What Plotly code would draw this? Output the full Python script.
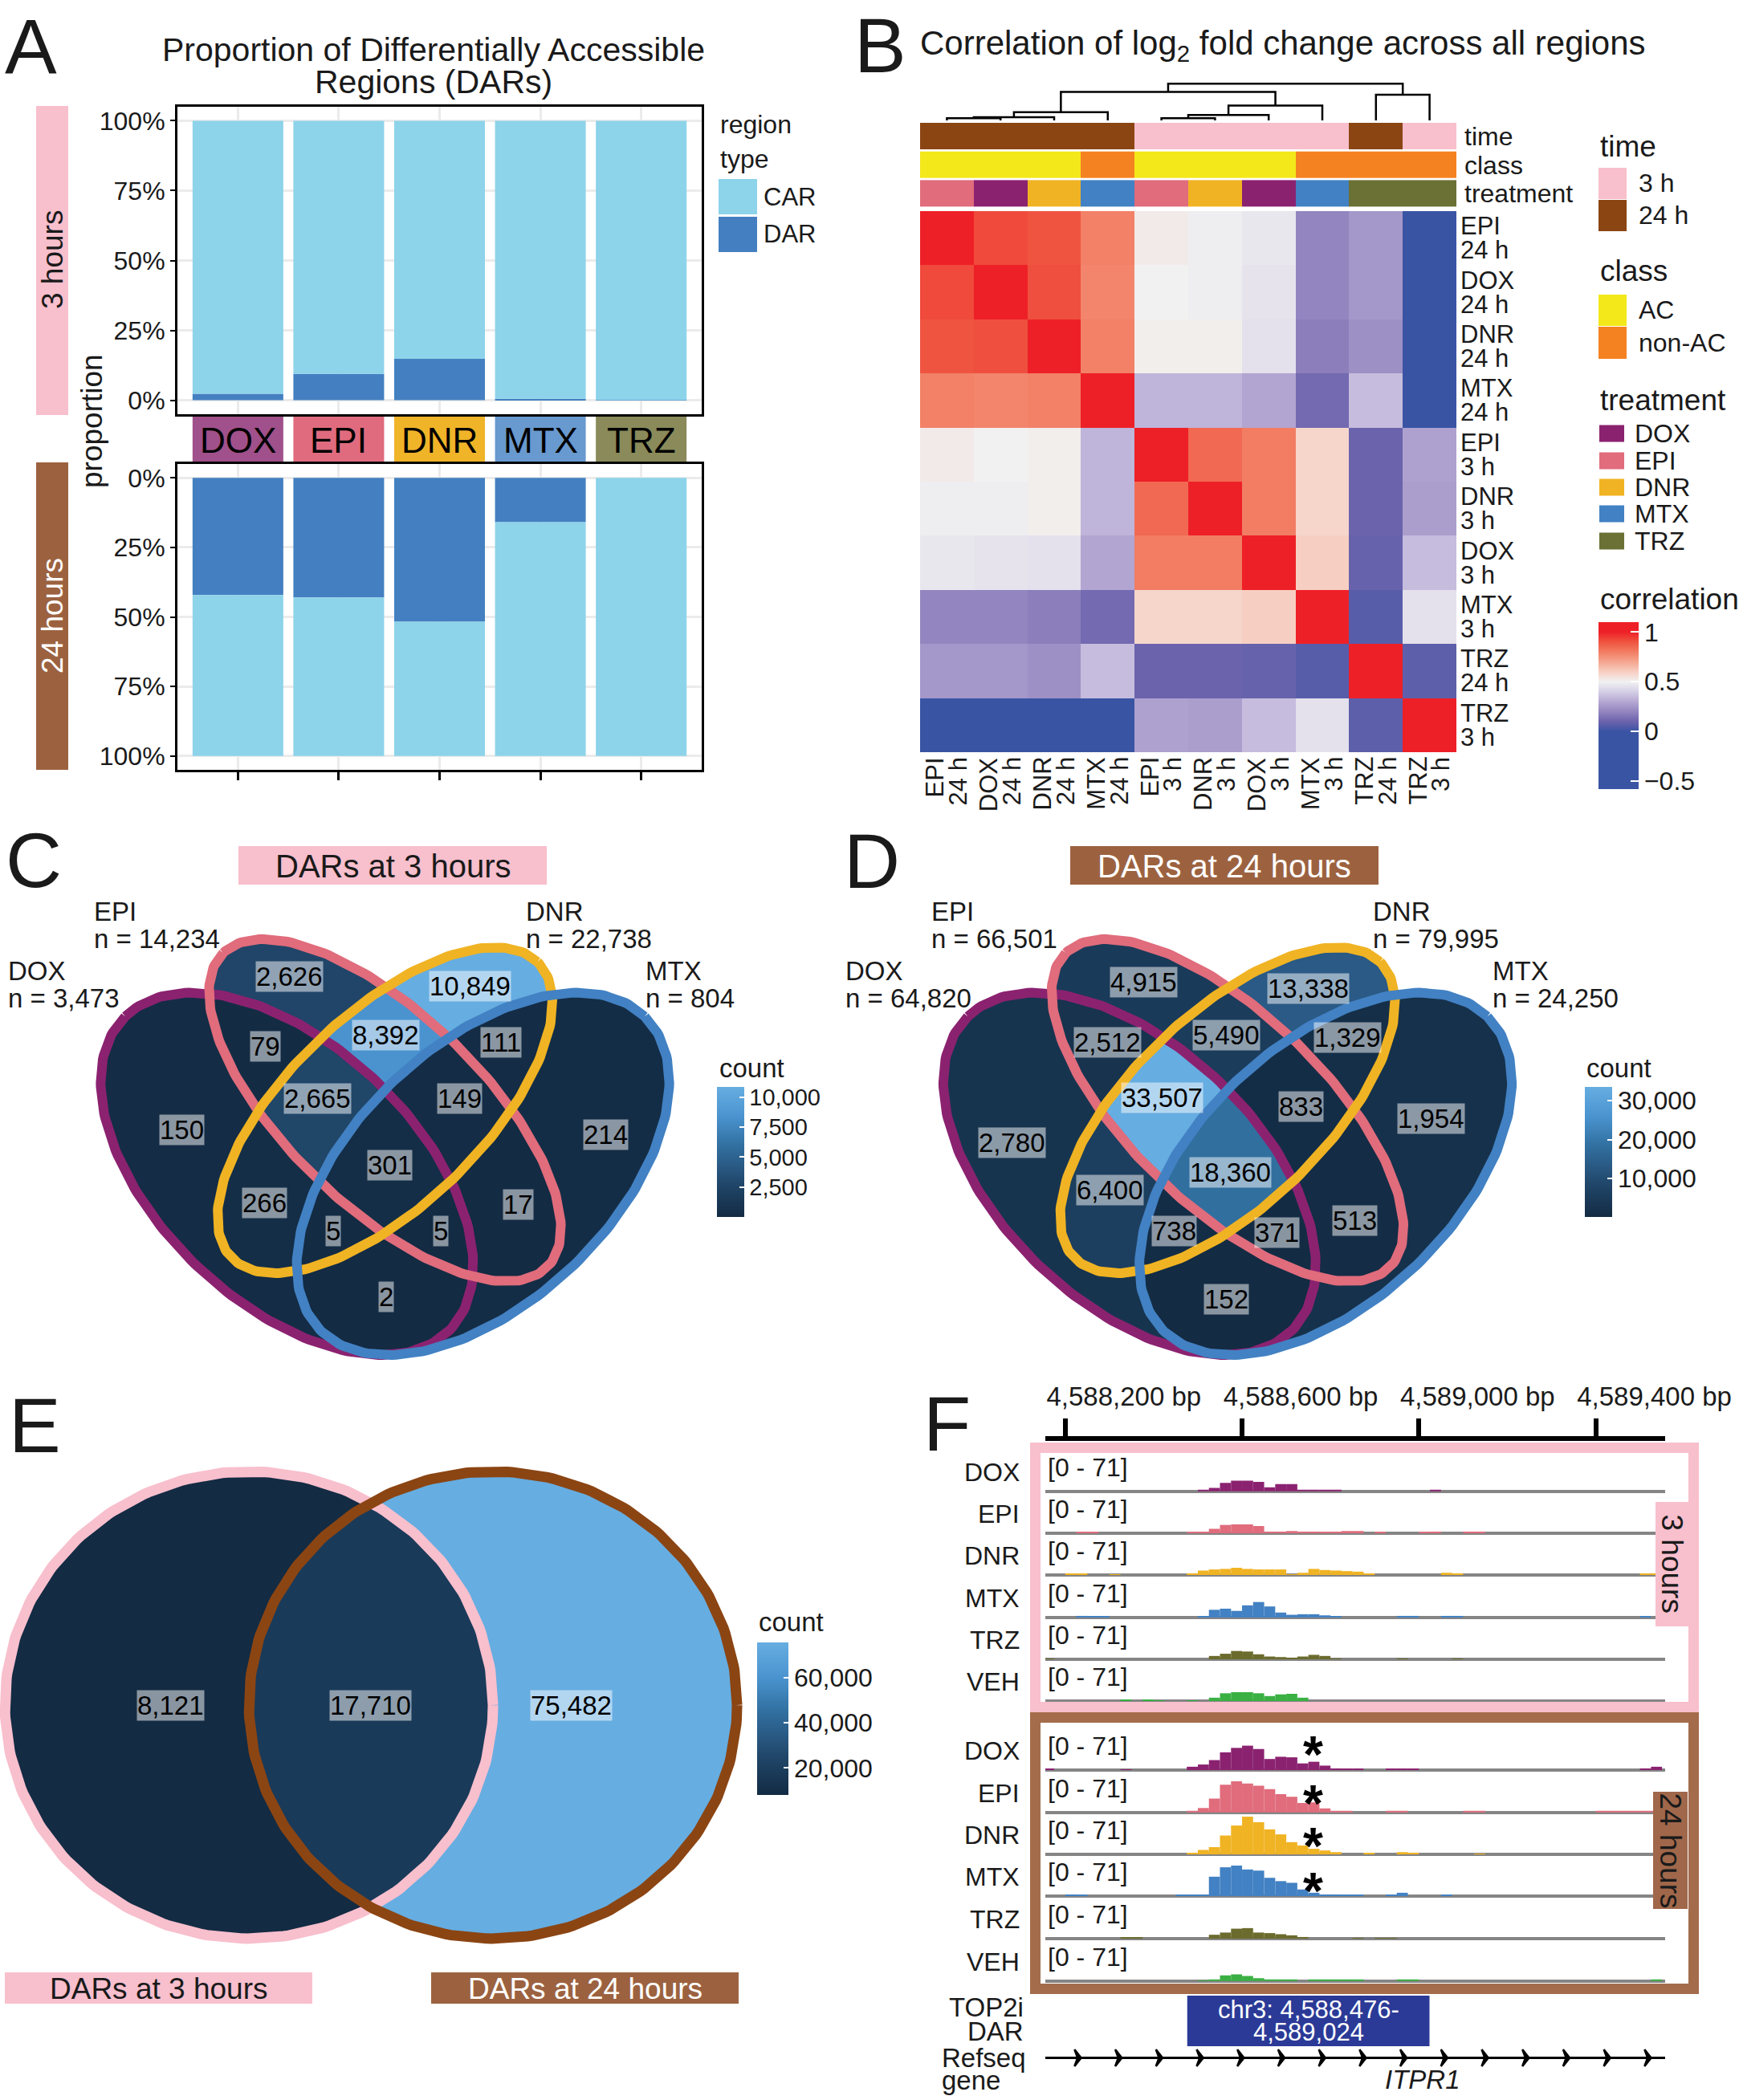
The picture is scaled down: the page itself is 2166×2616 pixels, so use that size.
import numpy as np
import plotly.graph_objects as go

W, H = 2166, 2616
FONT = "Liberation Sans, Arial, Helvetica, sans-serif"
INK = "#1a1a1a"


def X(px): return px / W
def Y(py): return 1 - py / H
def DX(a, b): return [a / W, b / W]
def DY(top, bot): return [1 - bot / H, 1 - top / H]


# ======================= DATA =======================
# --- Panel A : proportion of DARs per treatment ---
treatments = ["DOX", "EPI", "DNR", "MTX", "TRZ"]
dar_prop_3h = [0.023, 0.094, 0.148, 0.005, 0.0005]
dar_prop_24h = [0.421, 0.430, 0.517, 0.159, 0.0]
region_types = ["CAR", "DAR"]

# --- Panel B : correlation of log2 fold change ---
corr_drug = ["EPI", "DOX", "DNR", "MTX", "EPI", "DNR", "DOX", "MTX", "TRZ", "TRZ"]
corr_time = ["24 h", "24 h", "24 h", "24 h", "3 h", "3 h", "3 h", "3 h", "24 h", "3 h"]
corr_class = ["AC", "AC", "AC", "non-AC", "AC", "AC", "AC", "non-AC", "non-AC", "non-AC"]
corr_matrix = [
    [1.00, 0.92, 0.90, 0.79, 0.52, 0.49, 0.47, 0.20, 0.25, -0.05],
    [0.92, 1.00, 0.91, 0.78, 0.50, 0.49, 0.46, 0.20, 0.25, -0.05],
    [0.90, 0.91, 1.00, 0.79, 0.51, 0.51, 0.45, 0.18, 0.23, -0.10],
    [0.79, 0.78, 0.79, 1.00, 0.33, 0.33, 0.29, 0.12, 0.35, -0.15],
    [0.52, 0.50, 0.51, 0.33, 1.00, 0.85, 0.80, 0.58, 0.10, 0.28],
    [0.49, 0.49, 0.51, 0.33, 0.85, 1.00, 0.80, 0.58, 0.10, 0.27],
    [0.47, 0.46, 0.45, 0.29, 0.80, 0.80, 1.00, 0.60, 0.09, 0.35],
    [0.20, 0.20, 0.18, 0.12, 0.58, 0.58, 0.60, 1.00, 0.06, 0.45],
    [0.25, 0.25, 0.23, 0.35, 0.10, 0.10, 0.09, 0.06, 1.00, 0.07],
    [-0.05, -0.05, -0.10, -0.15, 0.28, 0.27, 0.35, 0.45, 0.07, 1.00],
]
# hierarchical clustering merges (child a, child b, height); ids >= 10 are earlier merges
dendro_merges = [(0, 1, 4), (10, 2, 6), (11, 3, 15), (4, 5, 4), (13, 6, 10),
                 (14, 7, 27), (12, 15, 52), (8, 9, 47), (16, 17, 67)]

# --- Panels C / D : 4-set Venn counts ---
venn_sets = ["DOX", "EPI", "DNR", "MTX"]
dars_3h = {"DOX": 150, "EPI": 2626, "DNR": 10849, "MTX": 214,
           "DOX&EPI": 79, "DOX&DNR": 266, "DOX&MTX": 2, "EPI&DNR": 8392,
           "EPI&MTX": 17, "DNR&MTX": 111, "DOX&EPI&DNR": 2665, "DOX&EPI&MTX": 5,
           "DOX&DNR&MTX": 5, "EPI&DNR&MTX": 149, "DOX&EPI&DNR&MTX": 301}
dars_24h = {"DOX": 2780, "EPI": 4915, "DNR": 13338, "MTX": 1954,
            "DOX&EPI": 2512, "DOX&DNR": 6400, "DOX&MTX": 152, "EPI&DNR": 5490,
            "EPI&MTX": 513, "DNR&MTX": 1329, "DOX&EPI&DNR": 33507, "DOX&EPI&MTX": 371,
            "DOX&DNR&MTX": 738, "EPI&DNR&MTX": 833, "DOX&EPI&DNR&MTX": 18360}

# --- Panel E : 2-set Venn ---
time_sets = ["DARs at 3 hours", "DARs at 24 hours"]
time_regions = {"3h": 8121, "3h&24h": 17710, "24h": 75482}

# --- Panel F : coverage tracks (25 bp bins from 4,588,150) ---
track_names = ["DOX", "EPI", "DNR", "MTX", "TRZ", "VEH"]
bin_start, bin_width = 4588150, 25
track_max = 71
cov_3h = {
    "DOX": [0,0,0,0,0,0,0,0,0,0, 0,0,0,0,3,6,15,19,19,17, 7,13,13,2,2,3,3,0,0,0, 0,0,0,0,0,3,0,0,0,0, 0,0,0,0,0,0,0,0,0,0, 0,0,0,0,0,0],
    "EPI": [0,0,0,2,2,0,0,0,0,0, 0,0,0,2,2,8,15,16,16,13, 3,3,4,3,3,2,2,4,4,0, 2,0,0,0,2,3,0,0,3,3, 0,0,0,0,0,0,0,0,0,0, 0,0,0,0,0,0],
    "DNR": [0,0,2,2,0,0,1,0,0,0, 0,0,0,3,8,10,11,13,11,10, 10,10,1,4,11,9,8,7,6,2, 0,0,0,0,0,0,4,3,0,0, 0,0,0,0,0,0,0,0,0,0, 0,0,0,0,3,3],
    "MTX": [0,0,0,3,2,2,0,0,0,0, 0,0,0,0,2,14,16,12,22,28, 20,9,5,6,6,4,2,0,0,0, 0,0,3,3,0,0,3,3,0,0, 0,0,0,0,0,0,0,0,0,0, 0,0,0,0,2,0],
    "TRZ": [1,0,0,0,0,0,0,0,0,0, 0,0,0,0,0,6,10,15,14,9, 5,4,3,5,8,6,1,0,0,0, 0,0,1,0,0,0,0,1,0,0, 0,0,0,0,0,0,0,0,0,0, 0,0,0,0,0,0],
    "VEH": [0,0,0,0,0,0,0,2,0,2, 1,0,0,1,0,6,14,16,16,14, 9,12,13,6,0,0,0,0,0,0, 0,0,0,0,0,0,0,0,0,0, 0,0,0,0,0,0,0,0,0,0, 0,0,0,0,0,0],
}
cov_24h = {
    "DOX": [2,0,0,0,0,0,0,1,0,0, 0,0,0,6,10,18,32,40,44,38, 20,24,23,12,15,8,3,2,2,0, 0,2,2,2,0,0,0,0,0,0, 0,0,0,0,0,0,0,0,0,0, 0,0,0,0,3,6],
    "EPI": [0,0,0,0,0,0,0,0,0,0, 0,0,0,3,8,25,50,56,52,48, 42,33,28,17,18,7,2,2,0,0, 0,2,2,0,0,0,0,0,2,2, 0,0,0,0,0,0,0,0,0,0, 2,2,2,2,2,2],
    "DNR": [0,0,0,0,0,0,0,0,0,0, 0,0,0,2,8,13,34,52,68,58, 45,36,22,16,10,7,4,0,0,2, 0,0,4,3,0,0,0,0,0,1, 0,0,0,0,0,0,0,0,0,0, 0,0,0,0,0,0],
    "MTX": [0,0,3,2,0,0,0,0,0,0, 0,0,2,2,2,35,52,55,48,46, 33,27,24,12,6,3,3,2,2,0, 0,2,6,0,0,0,2,0,0,0, 0,0,0,0,0,0,0,0,0,0, 0,0,0,0,0,0],
    "TRZ": [0,0,0,0,0,0,0,2,2,0, 0,0,0,0,0,7,11,18,19,11, 10,8,6,3,0,0,0,0,1,0, 1,1,0,0,0,0,0,0,0,0, 0,0,0,0,0,0,0,0,0,0, 0,0,0,0,0,0],
    "VEH": [0,0,0,0,0,0,0,0,0,0, 0,0,0,0,1,3,10,12,9,5, 2,2,3,0,2,3,2,3,2,0, 0,0,3,3,0,0,0,0,0,0, 0,0,0,0,0,0,0,0,0,0, 0,0,0,0,0,2],
}
starred_24h = ["DOX", "EPI", "DNR", "MTX"]
star_pos_bp = 4588761
dar_chrom, dar_start, dar_end = "chr3", 4588476, 4589024
genome_ticks = [4588200, 4588600, 4589000, 4589400]
gene_name = "ITPR1"
gene_label_bp = 4589009

# ======================= STYLE =======================
C_CAR, C_DAR = "#8DD3EA", "#4480C1"
PINK, BROWN_STRIP = "#F8BFCD", "#9C6240"
strip_colors = {"DOX": "#A0508A", "EPI": "#E06B7E", "DNR": "#F0B429", "MTX": "#6899CF", "TRZ": "#8A8A5A"}
drug_colors = {"DOX": "#8B2270", "EPI": "#E06C7C", "DNR": "#F0B323", "MTX": "#4281C3", "TRZ": "#6B7035",
               "VEH": "#3AB043"}
track_colors = dict(drug_colors, TRZ="#6B6B2E")
time_colors = {"3 h": "#F8BFCD", "24 h": "#8B4513"}
class_colors = {"AC": "#F3E81A", "non-AC": "#F58220"}
count_scale = [[0, "#132B43"], [0.25, "#204669"], [0.4, "#2A5B86"], [0.55, "#3170A0"],
               [0.77, "#4A93CF"], [1, "#66ADE1"]]
CMIN, CMAX = -0.58, 1.1
corr_stops = [(-0.58, "#3A54A4"), (0.0, "#3A54A4"), (0.1, "#6C63AD"), (0.2, "#9385BF"), (0.3, "#B5A8D3"),
              (0.4, "#D6CFE6"), (0.5, "#F1F1F1"), (0.6, "#F7CFC2"), (0.7, "#F5A690"), (0.8, "#F27D63"),
              (0.9, "#EF5440"), (1.0, "#EE2027"), (1.1, "#EE2027")]
corr_scale = [[(v - CMIN) / (CMAX - CMIN), c] for v, c in corr_stops]

# label placement (pixel centres) of the Venn region counts, as laid out in the figure
venn_label_px = {
    "C": {"EPI": (360, 1217), "DNR": (585, 1228), "DOX&EPI": (330, 1303), "EPI&DNR": (480, 1289),
          "DNR&MTX": (624, 1298), "DOX&EPI&DNR": (395, 1368), "EPI&DNR&MTX": (572, 1368),
          "DOX": (226, 1408), "MTX": (754, 1413), "DOX&EPI&DNR&MTX": (485, 1451),
          "DOX&DNR": (329, 1498), "EPI&MTX": (645, 1500), "DOX&DNR&MTX": (415, 1534),
          "DOX&EPI&MTX": (549, 1534), "DOX&MTX": (481, 1615)},
    "D": {"EPI": (1424, 1223), "DNR": (1629, 1231), "DOX&EPI": (1379, 1298), "EPI&DNR": (1527, 1289),
          "DNR&MTX": (1678, 1293), "DOX&EPI&DNR": (1448, 1367), "EPI&DNR&MTX": (1620, 1378),
          "DOX": (1260, 1423), "MTX": (1782, 1393), "DOX&EPI&DNR&MTX": (1532, 1460),
          "DOX&DNR": (1382, 1482), "EPI&MTX": (1687, 1520), "DOX&DNR&MTX": (1462, 1534),
          "DOX&EPI&MTX": (1590, 1535), "DOX&MTX": (1527, 1618)},
}

fig = go.Figure()
ann, shp = [], []
lay = dict(width=W, height=H, autosize=False,
           margin=dict(l=0, r=0, t=0, b=0, pad=0, autoexpand=False), paper_bgcolor="white",
           plot_bgcolor="white", barmode="overlay", showlegend=False, hovermode=False,
           font=dict(family=FONT, color=INK))


def T(x, y, s, size, xa="left", ya="middle", color=INK, angle=0, xref="paper", yref="paper", **kw):
    d = dict(x=X(x) if xref == "paper" else x, y=Y(y) if yref == "paper" else y,
             xref=xref, yref=yref, text=s, showarrow=False, xanchor=xa, yanchor=ya,
             textangle=angle, font=dict(size=size, color=color, family=FONT))
    d.update(kw)
    ann.append(d)


def R(x0, y0, x1, y1, fill=None, line=None, lw=0, xref="paper", yref="paper", layer="above"):
    shp.append(dict(type="rect", xref=xref, yref=yref,
                    x0=X(x0) if xref == "paper" else x0, x1=X(x1) if xref == "paper" else x1,
                    y0=Y(y0) if yref == "paper" else y0, y1=Y(y1) if yref == "paper" else y1,
                    fillcolor=fill or "rgba(0,0,0,0)",
                    line=dict(color=line or "rgba(0,0,0,0)", width=lw), layer=layer))


# ======================= PANEL A =======================
box = dict(showline=True, mirror=True, linecolor="black", linewidth=3)
grid = dict(showgrid=True, gridcolor="#EBEBEB", gridwidth=2.5, zeroline=False)
pct_vals = [0, 0.25, 0.5, 0.75, 1]
pct_text = [f"{int(v * 100)}%" for v in pct_vals]
for xa, ya, props in [("x", "y", dar_prop_3h), ("x2", "y2", dar_prop_24h)]:
    car = [1 - p for p in props]
    fig.add_bar(x=treatments, y=props, base=0, width=0.9, marker=dict(color=C_DAR, line_width=0),
                xaxis=xa, yaxis=ya, name="DAR")
    fig.add_bar(x=treatments, y=car, base=props, width=0.9, marker=dict(color=C_CAR, line_width=0),
                xaxis=xa, yaxis=ya, name="CAR")
lay["xaxis"] = dict(domain=DX(221, 874), range=[-0.6, 4.6], anchor="y", type="category",
                    ticks="", showticklabels=False, **grid, **box)
lay["yaxis"] = dict(domain=DY(133, 516), range=[-0.05, 1.05], anchor="x", tickvals=pct_vals,
                    ticktext=pct_text, ticks="outside", ticklen=6, tickwidth=2, tickcolor="black",
                    tickfont=dict(size=32, color=INK), **grid, **box)
lay["xaxis2"] = dict(domain=DX(221, 874), range=[-0.6, 4.6], anchor="y2", type="category",
                     ticks="outside", ticklen=10, tickwidth=2.5, tickcolor="black",
                     showticklabels=False, **grid, **box)
lay["yaxis2"] = dict(domain=DY(578, 959), range=[1.05, -0.05], anchor="x2", tickvals=pct_vals,
                     ticktext=pct_text, ticks="outside", ticklen=6, tickwidth=2, tickcolor="black",
                     tickfont=dict(size=32, color=INK), **grid, **box)
for i, t in enumerate(treatments):
    R(i - 0.45, 519, i + 0.45, 575, fill=strip_colors[t], xref="x")
    T(t, 548, t, 44, xa="center", xref="x", color="black")
T(4, 58, "A", 97)
T(540, 62, "Proportion of Differentially Accessible", 41, xa="center")
T(540, 102, "Regions (DARs)", 41, xa="center")
R(45, 132, 85, 517, fill=PINK)
T(65, 324, "3 hours", 37, xa="center", angle=-90)
R(45, 576, 85, 959, fill=BROWN_STRIP)
T(65, 767, "24 hours", 37, xa="center", angle=-90, color="white")
T(115, 525, "proportion", 37, xa="center", angle=-90)
T(895, 155, "region", 32)
T(895, 198, "type", 32)
R(895, 223, 943, 267, fill=C_CAR)
R(895, 270, 943, 314, fill=C_DAR)
T(949, 245, region_types[0], 31)
T(949, 292, region_types[1], 31)

# ======================= PANEL B =======================
n = len(corr_drug)
idx = list(range(n))
fig.add_heatmap(z=corr_matrix, x=idx, y=idx, xaxis="x3", yaxis="y3", colorscale=corr_scale,
                zmin=CMIN, zmax=CMAX, hoverinfo="skip",
                colorbar=dict(x=X(1991), xanchor="left", xpad=0, y=Y(879), yanchor="middle", ypad=0,
                              len=208, lenmode="pixels", thickness=50, outlinewidth=0,
                              tickvals=[-0.5, 0, 0.5, 1], ticktext=["\u22120.5", "0", "0.5", "1"],
                              ticks="inside", ticklen=10, tickwidth=2, tickcolor="white",
                              tickfont=dict(size=32, color=INK)))


def cat_heat(values, levels, colors, row):
    codes = [levels.index(v) for v in values]
    k = len(levels)
    cs = []
    for i, c in enumerate(colors):
        cs += [[i / k, c], [(i + 1) / k, c]]
    fig.add_heatmap(z=[codes], x=idx, y=[row], zmin=-0.5, zmax=k - 0.5, colorscale=cs,
                    showscale=False, xaxis="x3", yaxis="y4", ygap=3, hoverinfo="skip")


time_levels = ["3 h", "24 h"]
class_levels = ["AC", "non-AC"]
treat_levels = ["DOX", "EPI", "DNR", "MTX", "TRZ"]
cat_heat(corr_time, time_levels, [time_colors[l] for l in time_levels], 0)
cat_heat(corr_class, class_levels, [class_colors[l] for l in class_levels], 1)
cat_heat(corr_drug, treat_levels, [drug_colors[l] for l in treat_levels], 2)

node_x = {i: float(i) for i in range(n)}
node_h = {i: 0.0 for i in range(n)}
dxs, dys = [], []
for k, (a, b, h) in enumerate(dendro_merges):
    xa_, xb_ = node_x[a], node_x[b]
    dxs += [xa_, xa_, xb_, xb_, None]
    dys += [node_h[a], h, h, node_h[b], None]
    node_x[n + k] = (xa_ + xb_) / 2
    node_h[n + k] = h
fig.add_scatter(x=dxs, y=dys, mode="lines", line=dict(color="black", width=2.5),
                xaxis="x3", yaxis="y5", hoverinfo="skip")

off = dict(visible=False, showgrid=False, zeroline=False)
lay["xaxis3"] = dict(domain=DX(1146, 1814), range=[-0.5, n - 0.5], anchor="y3", **off)
lay["yaxis3"] = dict(domain=DY(263, 937), range=[n - 0.5, -0.5], anchor="x3", **off)
lay["yaxis4"] = dict(domain=DY(152, 259), range=[2.5, -0.5], anchor="x3", **off)
lay["yaxis5"] = dict(domain=DY(103, 150), range=[0, 69], anchor="x3", **off)

T(1062, 56, "B", 97)
T(1144, 56, "Correlation of log<sub>2</sub> fold change across all regions", 42)
for i in range(n):
    T(1817, i, corr_drug[i], 31, xref="paper", yref="y3", yshift=15)
    T(1817, i, corr_time[i], 31, xref="paper", yref="y3", yshift=-15)
    T(i, 941, corr_drug[i], 31, xa="center", ya="top", xref="x3", angle=-90, xshift=-15)
    T(i, 941, corr_time[i], 31, xa="center", ya="top", xref="x3", angle=-90, xshift=14)
for r, name in enumerate(["time", "class", "treatment"]):
    T(1822, r, name, 32, yref="y4")
# legends
T(1991, 182, "time", 37)
R(1991, 209, 2026, 248, fill=time_colors["3 h"])
R(1991, 249, 2026, 288, fill=time_colors["24 h"])
T(2039, 228, "3 h", 32)
T(2039, 268, "24 h", 32)
T(1991, 338, "class", 37)
R(1991, 367, 2026, 406, fill=class_colors["AC"])
R(1991, 407, 2026, 447, fill=class_colors["non-AC"])
T(2039, 386, "AC", 32)
T(2039, 427, "non-AC", 32)
T(1991, 498, "treatment", 37)
for k, (lv, yc) in enumerate(zip(treat_levels, [540, 574, 607, 640, 674])):
    R(1992, yc - 10.5, 2023, yc + 10.5, fill=drug_colors[lv])
    T(2034, yc, lv, 32)
T(1991, 746, "correlation", 37)

# ======================= PANELS C / D =======================
ELL = [(0.35, 0.47, 0.35, 0.20, 135), (0.50, 0.57, 0.35, 0.15, 135),
       (0.50, 0.57, 0.33, 0.15, 45), (0.65, 0.47, 0.35, 0.20, 45)]


def inside(U, V, e):
    cx, cy, a, b, ang = e
    t = np.radians(ang)
    du, dv = U - cx, V - cy
    p = du * np.cos(t) + dv * np.sin(t)
    q = -du * np.sin(t) + dv * np.cos(t)
    return (p / a) ** 2 + (q / b) ** 2 <= 1


def outline(e, npts=240):
    cx, cy, a, b, ang = e
    t = np.linspace(0, 2 * np.pi, npts)
    th = np.radians(ang)
    xs = cx + a * np.cos(t) * np.cos(th) - b * np.sin(t) * np.sin(th)
    ys = cy + a * np.cos(t) * np.sin(th) + b * np.sin(t) * np.cos(th)
    return xs, ys


uu = np.linspace(0, 1, 330)
vv = np.linspace(0.15, 0.87, 240)
UU, VV = np.meshgrid(uu, vv)
masks = [inside(UU, VV, e) for e in ELL]


def venn4(counts, xa, ya, cbar_x, cbar_ticks, label_px, tick_size):
    z = np.full(UU.shape, np.nan)
    for key, cnt in counts.items():
        mem = key.split("&")
        m = np.ones(UU.shape, bool)
        for i, s in enumerate(venn_sets):
            m &= masks[i] if s in mem else ~masks[i]
        z[m] = cnt
    zl = np.where(np.isnan(z), None, z).tolist()
    vals = list(counts.values())
    fig.add_heatmap(z=zl, x=uu, y=vv, xaxis=xa, yaxis=ya, colorscale=count_scale,
                    zmin=min(vals), zmax=max(vals), hoverinfo="skip",
                    colorbar=dict(x=X(cbar_x), xanchor="left", xpad=0, y=Y(1435), yanchor="middle",
                                  ypad=0, len=162, lenmode="pixels", thickness=34, outlinewidth=0,
                                  tickvals=cbar_ticks, ticktext=[f"{v:,}" for v in cbar_ticks],
                                  ticks="inside", ticklen=6, tickwidth=2, tickcolor="white",
                                  tickfont=dict(size=tick_size, color=INK)))
    for s, e in zip(venn_sets, ELL):
        ex, ey = outline(e)
        fig.add_scatter(x=ex, y=ey, mode="lines", line=dict(color=drug_colors[s], width=12),
                        xaxis=xa, yaxis=ya, hoverinfo="skip")
    for key, cnt in counts.items():
        px_, py_ = label_px[key]
        T(px_, py_, f"{cnt:,}", 33, xa="center", bgcolor="rgba(255,255,255,0.5)",
          borderpad=0, color="black")


def set_total(counts, s):
    return sum(v for k, v in counts.items() if s in k.split("&"))


venn4(dars_3h, "x4", "y6", 893, [2500, 5000, 7500, 10000], venn_label_px["C"], 29)
venn4(dars_24h, "x5", "y7", 1974, [10000, 20000, 30000], venn_label_px["D"], 32)
lay["xaxis4"] = dict(domain=DX(72.5, 886.5), range=[0, 1], anchor="y6", **off)
lay["yaxis6"] = dict(domain=DY(1145.5, 1715.7), range=[0.15, 0.87], anchor="x4", **off)
lay["xaxis5"] = dict(domain=DX(1122, 1936), range=[0, 1], anchor="y7", **off)
lay["yaxis7"] = dict(domain=DY(1145.5, 1715.7), range=[0.15, 0.87], anchor="x5", **off)

label_pos = {"C": {"EPI": (115, 1135), "DOX": (8, 1209), "DNR": (653, 1135), "MTX": (802, 1209)},
             "D": {"EPI": (1158, 1135), "DOX": (1051, 1209), "DNR": (1708, 1135), "MTX": (1857, 1209)}}
for pan, counts in [("C", dars_3h), ("D", dars_24h)]:
    for s in venn_sets:
        px_, py_ = label_pos[pan][s]
        T(px_, py_, s, 33)
        T(px_, py_ + 34, f"n = {set_total(counts, s):,}", 33)
T(5, 1071, "C", 97)
T(1049, 1072, "D", 97)
R(297, 1054, 681, 1102, fill=PINK)
T(489, 1079, time_sets[0], 40, xa="center")
R(1333, 1054, 1717, 1102, fill=BROWN_STRIP)
T(1525, 1079, time_sets[1], 40, xa="center", color="white")
T(894, 1330, "count", 33)
T(1974, 1330, "count", 33)

# ======================= PANEL E =======================
eu = np.linspace(-1.02, 2.04, 360)
ev = np.linspace(-1.03, 1.03, 230)
EU, EV = np.meshgrid(eu, ev)
circ = [(EU) ** 2 + EV ** 2 <= 1, (EU - 1) ** 2 + EV ** 2 <= 1]
ze = np.full(EU.shape, np.nan)
ecent = {}
for key, cnt in time_regions.items():
    mem = key.split("&")
    m = np.ones(EU.shape, bool)
    for i, s in enumerate(["3h", "24h"]):
        m &= circ[i] if s in mem else ~circ[i]
    ze[m] = cnt
    ecent[key] = (EU[m].mean(), EV[m].mean())
evals = list(time_regions.values())
fig.add_heatmap(z=np.where(np.isnan(ze), None, ze).tolist(), x=eu, y=ev, xaxis="x6", yaxis="y8",
                colorscale=count_scale, zmin=min(evals), zmax=max(evals), hoverinfo="skip",
                colorbar=dict(x=X(943), xanchor="left", xpad=0, y=Y(2141), yanchor="middle", ypad=0,
                              len=190, lenmode="pixels", thickness=39, outlinewidth=0,
                              tickvals=[20000, 40000, 60000], ticktext=["20,000", "40,000", "60,000"],
                              ticks="inside", ticklen=6, tickwidth=2, tickcolor="white",
                              tickfont=dict(size=32, color=INK)))
tt = np.linspace(0, 2 * np.pi, 300)
for c0, col in [(0, PINK), (1, "#8B4513")]:
    fig.add_scatter(x=c0 + np.cos(tt), y=np.sin(tt), mode="lines", line=dict(color=col, width=13),
                    xaxis="x6", yaxis="y8", hoverinfo="skip")
for key, cnt in time_regions.items():
    cu, cv = ecent[key]
    T(cu, cv, f"{cnt:,}", 33, xa="center", xref="x6", yref="y8",
      bgcolor="rgba(255,255,255,0.5)", borderpad=0, color="black")
lay["xaxis6"] = dict(domain=DX(0, 930.2), range=[-1.02, 2.04], anchor="y8", **off)
lay["yaxis8"] = dict(domain=DY(1824.3, 2423.7), range=[-1.03, 1.03], anchor="x6", **off)
T(9, 1775, "E", 97)
T(943, 2020, "count", 33)
R(6, 2457, 389, 2496, fill=PINK)
T(197.5, 2477, time_sets[0], 37, xa="center")
R(537, 2457, 920, 2496, fill=BROWN_STRIP)
T(728.5, 2477, time_sets[1], 37, xa="center", color="white")

# ======================= PANEL F =======================
GX0, GX1 = 4588155, 4589557
lay["xaxis7"] = dict(domain=DX(1302, 2074), range=[GX0, GX1], anchor="free", position=Y(1792),
                     side="top", showline=True, linecolor="black", linewidth=6, ticks="outside",
                     ticklen=22, tickwidth=6, tickcolor="black", tickvals=genome_ticks,
                     ticktext=[f"{t:,} bp" for t in genome_ticks], tickfont=dict(size=33, color=INK),
                     ticklabelshift=73, ticklabelstandoff=3, showgrid=False, zeroline=False,
                     automargin=False)
bin_centers = [bin_start + bin_width * i + bin_width / 2 for i in range(len(cov_3h["DOX"]))]
base_px = {"3h": [1857.7, 1910, 1962, 2015, 2067, 2119],
           "24h": [2205, 2257.7, 2310, 2362, 2415, 2467.7]}
ax_id = 9
for tp, covs in [("3h", cov_3h), ("24h", cov_24h)]:
    for k, name in enumerate(track_names):
        b = base_px[tp][k]
        yname = f"y{ax_id}"
        lay[f"yaxis{ax_id}"] = dict(domain=DY(b - 50, b + 2), range=[-2.9, 72.4], anchor="x7",
                                    showticklabels=False, ticks="", showgrid=False, showline=False,
                                    zeroline=True, zerolinecolor="#858585", zerolinewidth=3.5)
        fig.add_bar(x=bin_centers, y=covs[name], width=bin_width,
                    marker=dict(color=track_colors[name], line_width=0), xaxis="x7", yaxis=yname)
        T(1272, b - 24, name, 32, xa="right")
        T(1303, b - 30, f"[0 - {track_max}]", 32)
        ax_id += 1
star_y = {"DOX": 2168, "EPI": 2229, "DNR": 2282, "MTX": 2338}
for name in starred_24h:
    T(star_pos_bp, star_y[name] + 18, "<b>*</b>", 64, xa="center", xref="x7", color="black")

# gene model
gid = ax_id
lay[f"yaxis{gid}"] = dict(domain=DY(2552, 2575), range=[-1.1, 1.1], anchor="x7", **off)
fig.add_scatter(x=[GX0, GX1], y=[0, 0], mode="lines", line=dict(color="black", width=3),
                xaxis="x7", yaxis=f"y{gid}", hoverinfo="skip")
chx, chy = [], []
for c in np.arange(4588236, GX1 - 20, 92.1):
    chx += [c - 15, c, c - 15, c - 8, c - 15, None]
    chy += [1, 0, -1, 0, 1, None]
fig.add_scatter(x=chx, y=chy, mode="lines", fill="toself", fillcolor="black",
                line=dict(color="black", width=2.5), xaxis="x7", yaxis=f"y{gid}", hoverinfo="skip")
T(gene_label_bp, 2590, f"<i>{gene_name}</i>", 33, xa="center", xref="x7")

# DAR box
shp.append(dict(type="rect", xref="x7", yref="paper", x0=dar_start, x1=dar_end, y0=Y(2549), y1=Y(2486),
                fillcolor="#2B3A97", line=dict(width=0), layer="above"))
T((dar_start + dar_end) / 2, 2503, f"{dar_chrom}: {dar_start:,}-", 31, xa="center", xref="x7", color="white")
T((dar_start + dar_end) / 2, 2531, f"{dar_end:,}", 31, xa="center", xref="x7", color="white")

# boxes and tabs
R(1289.5, 1803.5, 2109.5, 2126.5, line=PINK, lw=13)
R(1289.5, 2139.5, 2109.5, 2477.5, line="#A46C4B", lw=13)
R(2062, 1871, 2103, 2026, fill=PINK)
T(2082.5, 1948, "3 hours", 37, xa="center", angle=90)
R(2059, 2232, 2102, 2378, fill="#A0674A")
T(2080.5, 2305, "24 hours", 37, xa="center", angle=90)

T(1148, 1773, "F", 97)
T(1277, 2500, "TOP2i", 33, xa="right")
T(1277, 2530, "DAR", 33, xa="right")
T(1171, 2563, "Refseq", 33)
T(1171, 2591, "gene", 33)

lay["annotations"] = ann
lay["shapes"] = shp
fig.update_layout(**lay)
fig.write_html("out.html", config={"displayModeBar": False},
               post_script="document.body.style.margin='0px';document.body.style.padding='0px';")
